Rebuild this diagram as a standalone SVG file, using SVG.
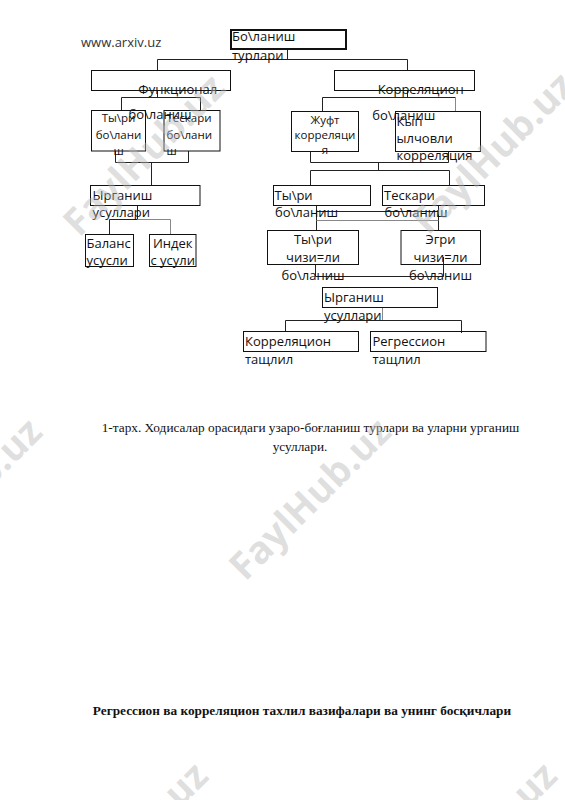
<svg xmlns="http://www.w3.org/2000/svg" width="565" height="800" viewBox="0 0 565 800">
<style>
.bx{fill:none;stroke:#111;stroke-width:1}
.t{font-family:"Open Sans","Noto Sans","DejaVu Sans",sans-serif;font-size:13px;fill:#111}
.s{font-size:11.5px}
.c{text-anchor:middle}
.ln{fill:none;stroke:#222;stroke-width:1}
.lg{fill:none;stroke:#888;stroke-width:1}
.cap{font-family:"Liberation Serif","Times New Roman",serif;font-size:13.3px;fill:#111}
.wm{font-family:"Open Sans","Noto Sans",sans-serif;font-weight:bold;font-size:38px;fill:#b8b8b8;fill-opacity:0.45;text-anchor:middle}
</style>
<rect width="565" height="800" fill="#fff"/>
<text class="t" x="81" y="47" style="fill:#333">www.arxiv.uz</text>

<g id="connectors">
<path class="ln" d="M287.5 49V59.5M157.5 59.5H407.5M157.5 59.5V70M407.5 59.5V70"/>
<path class="ln" d="M157.5 90.5V97.5M121.5 97.5H200.5M121.5 97.5V110.5M200.5 97.5V110.5"/>
<path class="ln" d="M115.5 151V162.5M188.5 151V162.5M115.5 162.5H188.5M151.5 162.5V185"/>
<path class="ln" d="M137.5 205V219.5M109.5 219.5H137.5M109.5 219.5V234.5"/>
<path class="lg" d="M137.5 219.5H170.5V234.5"/>
<path class="ln" d="M407.5 90.5V97.5M322.5 97.5H455.5M322.5 97.5V111.5"/>
<path class="lg" d="M455.5 97.5V111.5"/>
<path class="ln" d="M310.5 151.5V162.5M448.5 151.5V162.5M310.5 162.5H448.5M378.5 162.5V170.5M310.5 170.5H449.5M310.5 170.5V185.5M449.5 170.5V185.5"/>
<path class="ln" d="M316.5 205.5V230.5M438.5 205.5V230.5M316.5 211.5H438.5"/>
<path class="lg" d="M316.5 220.5H438.5"/>
<path class="ln" d="M315.5 264.5V276.5M443.5 257V276.5M315.5 276.5H443.5"/>
<path class="lg" d="M382.5 307.5V320.5"/>
<path class="ln" d="M285.5 320.5H461.5M285.5 320.5V331.5M461.5 320.5V333"/>
</g>

<g id="root">
<rect x="231" y="30" width="115" height="19" fill="none" stroke="#111" stroke-width="2"/>
<text class="t" x="232" y="41">Бо\ланиш</text>
<text class="t" x="232" y="60">турлари</text>
</g>

<g id="funktsional">
<rect class="bx" x="91.5" y="70.5" width="139" height="20"/>
<text class="t" x="138.3" y="94">Функционал</text>
<text class="t" x="128.5" y="119">бо\ланиш</text>
</g>

<g id="korrelyatsion">
<rect class="bx" x="334.5" y="70.5" width="140" height="20"/>
<text class="t" x="377.7" y="94">Корреляцион</text>
<text class="t" x="372.3" y="120">бо\ланиш</text>
</g>

<g id="tyri-left">
<rect class="bx" x="91.5" y="110.5" width="54" height="40.5"/>
<text class="t s c" x="118.5" y="122">Ты\ри</text>
<text class="t s c" x="118.5" y="138.5">бо\лани</text>
<text class="t s c" x="118.5" y="155">ш</text>
</g>

<g id="teskari-left">
<rect class="bx" x="164" y="110.5" width="56" height="40.5"/>
<text class="t s" x="166.5" y="122">Тескари</text>
<text class="t s" x="166.5" y="138.5">бо\лани</text>
<text class="t s" x="166.5" y="155">ш</text>
</g>

<g id="zhuft">
<rect class="bx" x="291.5" y="111.5" width="67" height="40"/>
<text class="t s c" x="325" y="124">Жуфт</text>
<text class="t s c" x="325" y="139">корреляци</text>
<text class="t s c" x="325" y="154">я</text>
</g>

<g id="kyp">
<rect class="bx" x="395.5" y="111.5" width="85" height="40"/>
<text class="t" x="396.5" y="125.5">Кып</text>
<text class="t" x="396.5" y="143">ылчовли</text>
<text class="t" x="396.5" y="160">корреляция</text>
</g>

<g id="urganish-left">
<rect class="bx" x="90.5" y="185.5" width="109.5" height="20"/>
<text class="t" x="92.5" y="199.5">Ырганиш</text>
<text class="t" x="92.5" y="217">усуллари</text>
</g>

<g id="balans">
<rect class="bx" x="85.5" y="234.5" width="48" height="32"/>
<text class="t" x="86.5" y="247.5">Баланс</text>
<text class="t" x="86.5" y="264.5">усусли</text>
</g>

<g id="indeks">
<rect class="bx" x="149.5" y="234.5" width="46.5" height="32"/>
<text class="t c" x="172.7" y="247.5">Индек</text>
<text class="t c" x="172.7" y="264.5">с усули</text>
</g>

<g id="tyri-right">
<rect class="bx" x="273.5" y="185.5" width="97" height="20"/>
<text class="t" x="274.5" y="200">Ты\ри</text>
<text class="t" x="275" y="216.7">бо\ланиш</text>
</g>

<g id="teskari-right">
<rect class="bx" x="382.5" y="185.5" width="102" height="20"/>
<text class="t" x="384" y="200">Тескари</text>
<text class="t" x="384.5" y="216.7">бо\ланиш</text>
</g>

<g id="tyri-chizi">
<rect class="bx" x="267.5" y="230.5" width="91" height="34"/>
<text class="t c" x="313" y="243.5">Ты\ри</text>
<text class="t c" x="313" y="261.5">чизи=ли</text>
<text class="t c" x="313" y="280">бо\ланиш</text>
</g>

<g id="egri">
<rect class="bx" x="401" y="230.5" width="79.5" height="34"/>
<text class="t c" x="440.5" y="243.5">Эгри</text>
<text class="t c" x="440.5" y="261.5">чизи=ли</text>
<text class="t c" x="440.5" y="280">бо\ланиш</text>
</g>

<g id="urganish-right">
<rect class="bx" x="322.5" y="287.5" width="115" height="20"/>
<text class="t" x="324" y="301.5">Ырганиш</text>
<text class="t" x="324" y="319.7">усуллари</text>
</g>

<g id="korr-tahlil">
<rect class="bx" x="243.5" y="331.5" width="115" height="20"/>
<text class="t" x="245" y="346">Корреляцион</text>
<text class="t" x="245" y="364">тащлил</text>
</g>

<g id="regr-tahlil">
<rect class="bx" x="370.5" y="331.5" width="115.5" height="20"/>
<text class="t" x="372.5" y="346">Регрессион</text>
<text class="t" x="372.5" y="364">тащлил</text>
</g>

<text class="cap" x="101.7" y="432">1-тарх. Ходисалар орасидаги узаро-боғланиш турлари ва уларни урганиш</text>
<text class="cap" x="300" y="451" text-anchor="middle">усуллари.</text>
<text class="cap" x="302" y="715" text-anchor="middle" font-weight="bold">Регрессион ва корреляцион тахлил вазифалари ва унинг босқичлари</text>

<g id="watermarks">
<text class="wm" transform="translate(144 155) rotate(-45)" y="13">FaylHub.uz</text>
<text class="wm" transform="translate(493 153) rotate(-45)" y="13">FaylHub.uz</text>
<text class="wm" transform="translate(310 499) rotate(-45)" y="13">FaylHub.uz</text>
<text class="wm" transform="translate(-39 499) rotate(-45)" y="13">FaylHub.uz</text>
<text class="wm" transform="translate(127 843) rotate(-45)" y="13">FaylHub.uz</text>
<text class="wm" transform="translate(476 843) rotate(-45)" y="13">FaylHub.uz</text>
</g>
</svg>
